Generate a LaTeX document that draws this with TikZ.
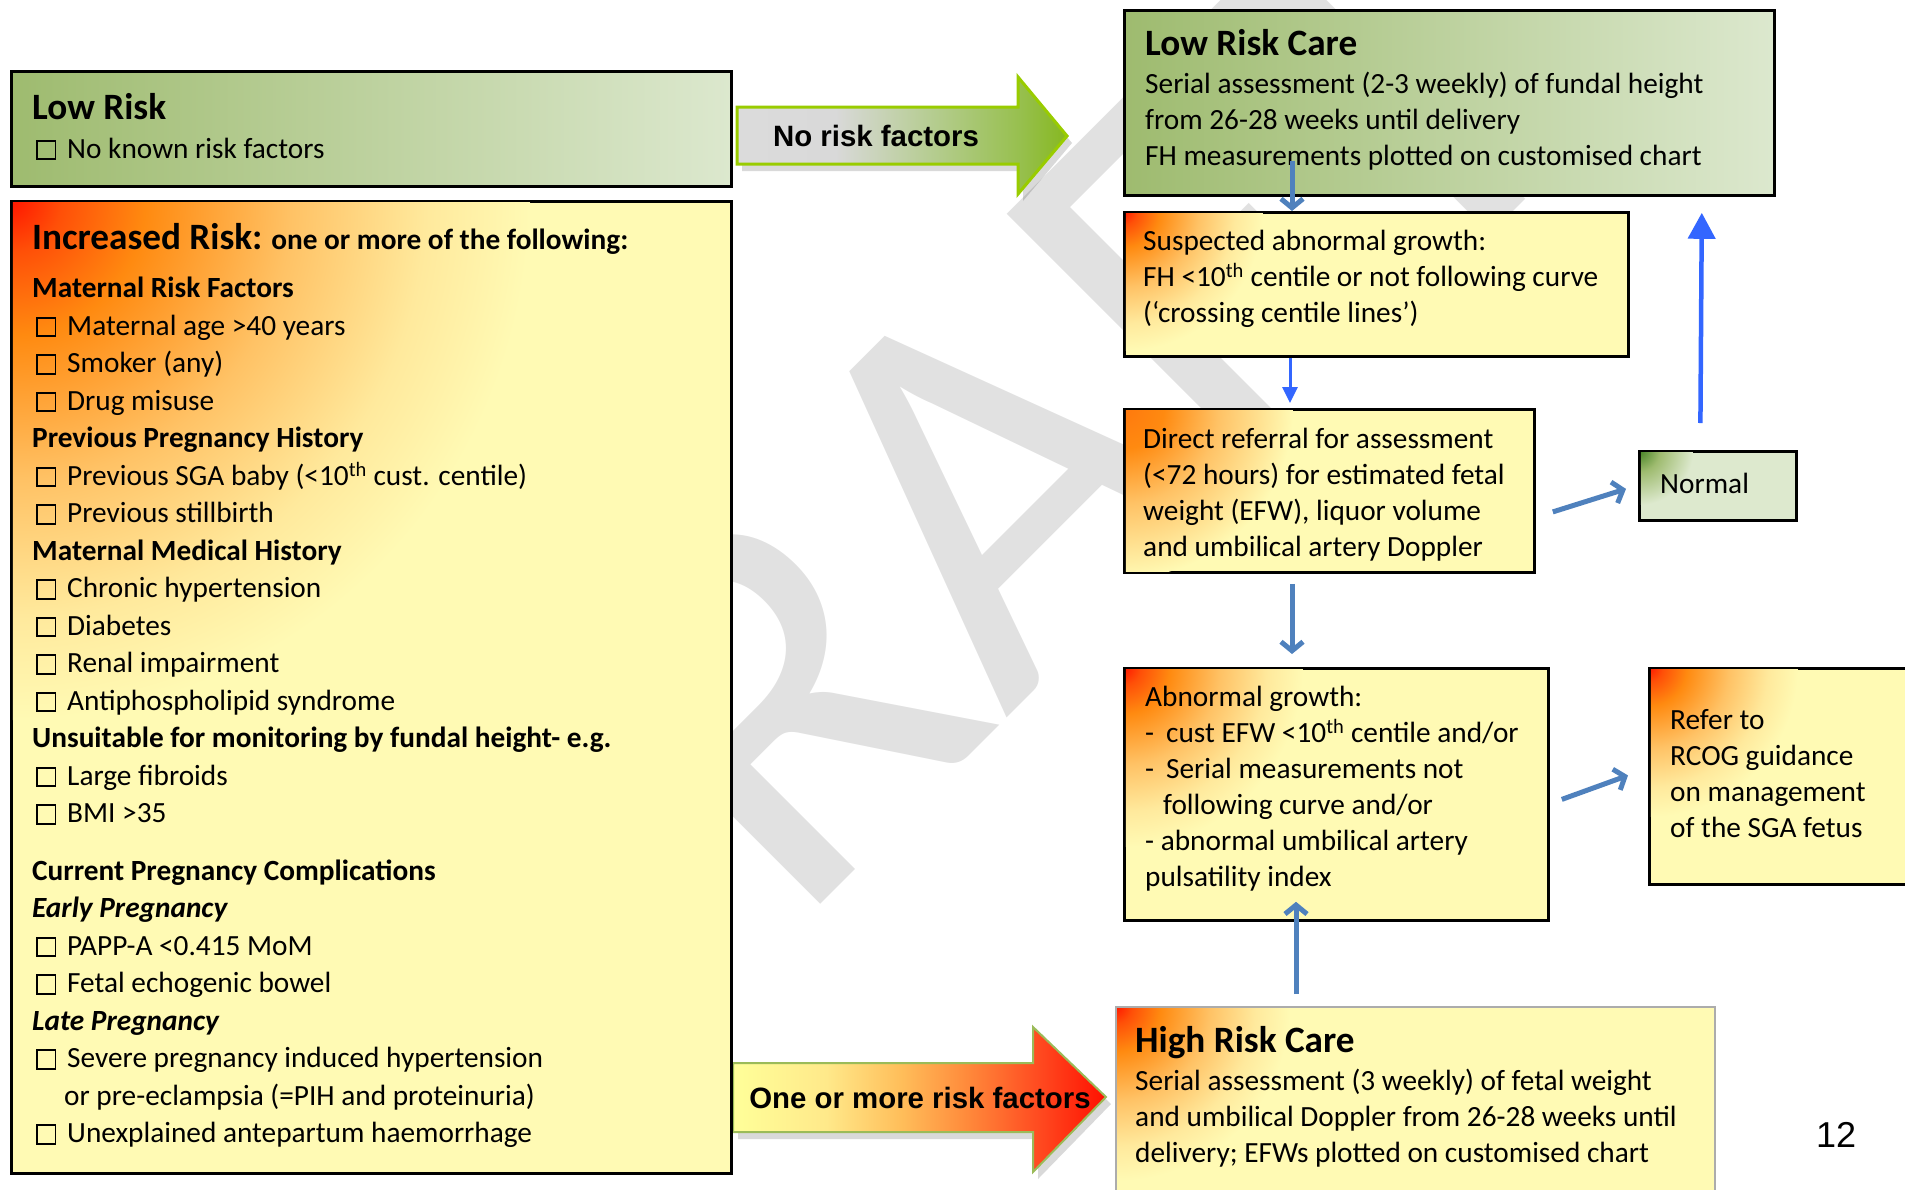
\documentclass[tikz,border=0pt]{standalone}
\usepackage{fontspec}
\setmainfont{Carlito}
\newfontfamily\arialfont{Liberation Sans}
\usetikzlibrary{arrows.meta}

\definecolor{lrgreenA}{HTML}{9EBB6F}
\definecolor{lrgreenB}{HTML}{DCE8CE}
\definecolor{paleyellow}{HTML}{FFFAB4}
\definecolor{hotred}{HTML}{FF1500}
\definecolor{hotorange}{HTML}{FF8A10}
\definecolor{lightorange}{HTML}{FFC265}
\definecolor{steelblue}{HTML}{4F81BD}
\definecolor{brightblue}{HTML}{3366FF}
\definecolor{limegreen}{HTML}{99CC00}
\definecolor{rimgreen}{HTML}{9BBB59}
\definecolor{wmgray}{HTML}{E1E1E1}
\definecolor{normalgreen}{HTML}{3F7F1F}
\definecolor{normalpale}{HTML}{DDE9CE}

% tikz fits the 25bp..75bp part of a shading to the path
\pgfdeclareradialshading{hotcorner}{\pgfpointorigin}{color(0bp)=(hotred); color(2.5bp)=(hotred!50!hotorange); color(6.5bp)=(hotorange); color(13.5bp)=(lightorange); color(20bp)=(paleyellow!70!lightorange); color(25bp)=(paleyellow); color(50bp)=(paleyellow)}
\pgfdeclareradialshading{warmcorner}{\pgfpointorigin}{color(0bp)=(hotorange!85!hotred); color(6bp)=(hotorange); color(14bp)=(lightorange); color(25bp)=(paleyellow); color(50bp)=(paleyellow)}
\pgfdeclareradialshading{greencorner}{\pgfpointorigin}{color(0bp)=(normalgreen); color(10bp)=(lrgreenA); color(25bp)=(normalpale); color(50bp)=(normalpale)}
\pgfdeclarehorizontalshading{greenarrow}{100bp}{color(0bp)=(black!14); color(25bp)=(black!14); color(40bp)=(black!15); color(55bp)=(rgb,255:red,180;green,204;blue,142); color(67.5bp)=(rgb,255:red,152;green,192;blue,80); color(75bp)=(rgb,255:red,134;green,184;blue,32); color(100bp)=(rgb,255:red,134;green,184;blue,32)}
\pgfdeclarehorizontalshading{hotarrow}{100bp}{color(0bp)=(rgb,255:red,255;green,255;blue,153); color(25bp)=(rgb,255:red,255;green,255;blue,153); color(37.5bp)=(rgb,255:red,255;green,233;blue,138); color(47.5bp)=(rgb,255:red,255;green,190;blue,90); color(56bp)=(rgb,255:red,255;green,140;blue,60); color(66bp)=(rgb,255:red,255;green,74;blue,32); color(75bp)=(rgb,255:red,255;green,16;blue,0); color(100bp)=(rgb,255:red,255;green,16;blue,0)}

\newcommand{\ckbox}{\makebox[35pt][l]{\hspace*{4pt}{\setlength{\fboxsep}{0pt}\setlength{\fboxrule}{1.8pt}\fbox{\rule{0pt}{16.5pt}\rule{16.5pt}{0pt}}}}}
\newcommand{\boxtitle}{\fontsize{37.2}{36}\selectfont\bfseries}
% corner glow: node, shading, radius, inset
\newcommand{\cornerglow}[4]{%
  \begin{scope}
    \clip ([shift={(#4,#4)}]#1.north west) rectangle ([shift={(-#4,-#4)}]#1.south east);
    \shade[shading=#2] (#1.north west) circle (#3);
  \end{scope}}

\def\noriskpath{(737,107) -- (1018,107) -- (1018,77) -- (1067,136) -- (1018,194) -- (1018,164) -- (737,164) -- cycle}
\def\onepluspath{(733,1063) -- (1033,1063) -- (1033,1027) -- (1106,1097) -- (1033,1172) -- (1033,1132) -- (733,1132) -- cycle}

\tikzset{
  box/.style={draw=black, line width=2.8pt, anchor=north west, inner sep=0pt},
  yellowbox/.style={box, fill=paleyellow},
  greenbox/.style={box, left color=lrgreenA, right color=lrgreenB},
  boxtext/.style={anchor=west, align=left, inner sep=0pt, font=\fontsize{29.3}{36}\selectfont},
  blocklabel/.style={inner sep=0pt, font=\arialfont\bfseries\fontsize{29.4}{30}\selectfont},
  steelarr/.style={draw=steelblue, line width=5pt, -{Straight Barb[length=9pt,width=22pt]}},
  bluearr/.style={draw=brightblue, line width=3pt, -{Triangle[length=16pt,width=15pt]}},
  bigbluearr/.style={draw=brightblue, line width=4.5pt, -{Triangle[length=26pt,width=27pt]}}
}

\begin{document}
\begin{tikzpicture}[x=1pt,y=-1pt]
  \useasboundingbox (0,0) rectangle (1905,1189);

  % watermark
  \node[rotate=45, anchor=base west, inner sep=0pt, text=wmgray,
        font=\fontsize{555}{600}\selectfont] (draft) at (551,1174) {DRAFT};

  % block arrows
  \fill[black, opacity=.15, shift={(5,7)}] \noriskpath;
  \shade[shading=greenarrow, draw=limegreen, line width=3pt] \noriskpath;
  \node[blocklabel] (norisk) at (876,136) {No risk factors};

  \fill[black, opacity=.15, shift={(5,7)}] \onepluspath;
  \shade[shading=hotarrow, draw=rimgreen, line width=2pt] \onepluspath;
  \node[blocklabel] (oneplus) at (920,1098) {One or more risk factors};

  % left column
  \node[greenbox, minimum width=720, minimum height=115] (lowrisk) at (10,70) {};
  \node[boxtext] (lowrisktext) at ([xshift=22,yshift=2]lowrisk.west)
    {{\boxtitle Low Risk}\\[2.5pt]
     \ckbox No known risk factors};

  \node[yellowbox, minimum width=720, minimum height=972] (incrisk) at (10,200) {};
  \cornerglow{incrisk}{hotcorner}{520}{2.8}
  \node[boxtext, font=\fontsize{29.3}{37.5}\selectfont] (incrisktext) at ([xshift=22,yshift=2]incrisk.west)
    {{\boxtitle Increased Risk:} \textbf{one or more of the following:}\\[11pt]
     \textbf{Maternal Risk Factors}\\
     \ckbox Maternal age >40 years\\
     \ckbox Smoker (any)\\
     \ckbox Drug misuse\\
     \textbf{Previous Pregnancy History}\\
     \ckbox Previous SGA baby (<10\textsuperscript{th} cust. centile)\\
     \ckbox Previous stillbirth\\
     \textbf{Maternal Medical History}\\
     \ckbox Chronic hypertension\\
     \ckbox Diabetes\\
     \ckbox Renal impairment\\
     \ckbox Antiphospholipid syndrome\\
     \textbf{Unsuitable for monitoring by fundal height- e.g.}\\
     \ckbox Large fibroids\\
     \ckbox BMI >35\\[20pt]
     \textbf{Current Pregnancy Complications}\\
     \textbf{\textit{Early Pregnancy}}\\
     \ckbox PAPP-A <0.415 MoM\\
     \ckbox Fetal echogenic bowel\\
     \textbf{\textit{Late Pregnancy}}\\
     \ckbox Severe pregnancy induced hypertension\\
     \hspace*{32pt}or pre-eclampsia (=PIH and proteinuria)\\
     \ckbox Unexplained antepartum haemorrhage};

  % right column
  \node[greenbox, minimum width=650, minimum height=185] (lrcare) at (1123,9) {};
  \node[boxtext] (lrcaretext) at ([xshift=22,yshift=3]lrcare.west)
    {{\boxtitle Low Risk Care}\\[2pt]
     Serial assessment (2-3 weekly) of fundal height\\
     from 26-28 weeks until delivery\\
     FH measurements plotted on customised chart};

  \node[yellowbox, minimum width=504, minimum height=144] (suspect) at (1123,211) {};
  \cornerglow{suspect}{hotcorner}{140}{2.8}
  \node[boxtext] (suspecttext) at ([xshift=20,yshift=6]suspect.west)
    {Suspected abnormal growth:\\
     FH <10\textsuperscript{th} centile or not following curve\\
     (‘crossing centile lines’)};

  \node[yellowbox, minimum width=410, minimum height=163] (referral) at (1123,408) {};
  \cornerglow{referral}{warmcorner}{170}{2.8}
  \node[boxtext] (referraltext) at ([xshift=20,yshift=-4]referral.west)
    {Direct referral for assessment\\
     (<72 hours) for estimated fetal\\
     weight (EFW), liquor volume\\
     and umbilical artery Doppler};

  \node[box, fill=normalpale, minimum width=157, minimum height=69] (normal) at (1638,450) {};
  \cornerglow{normal}{greencorner}{55}{2.8}
  \node[boxtext] (normaltext) at ([xshift=22,yshift=2]normal.west) {Normal};

  \node[yellowbox, minimum width=424, minimum height=252] (abnormal) at (1123,667) {};
  \cornerglow{abnormal}{hotcorner}{180}{2.8}
  \node[boxtext] (abnormaltext) at ([xshift=22,yshift=6]abnormal.west)
    {Abnormal growth:\\
     -\hspace*{12pt}cust EFW <10\textsuperscript{th} centile and/or\\
     -\hspace*{12pt}Serial measurements not\\
     \hspace*{18pt}following curve and/or\\
     - abnormal umbilical artery\\
     pulsatility index};

  \node[yellowbox, minimum width=282, minimum height=216] (rcog) at (1648,667) {};
  \cornerglow{rcog}{hotcorner}{150}{2.8}
  \node[boxtext] (rcogtext) at ([xshift=22,yshift=3]rcog.west)
    {Refer to\\
     RCOG guidance\\
     on management\\
     of the SGA fetus};

  \node[yellowbox, draw=gray!65, line width=2pt, minimum width=599, minimum height=189] (hrcare) at (1115,1006) {};
  \cornerglow{hrcare}{hotcorner}{175}{2}
  \node[boxtext, anchor=north west] (hrcaretext) at ([xshift=20,yshift=-20]hrcare.north west)
    {{\boxtitle High Risk Care}\\[2pt]
     Serial assessment (3 weekly) of fetal weight\\
     and umbilical Doppler from 26-28 weeks until\\
     delivery; EFWs plotted on customised chart};

  \node[font=\arialfont\fontsize{36}{36}\selectfont, inner sep=0pt] (pagenum) at (1836,1135) {12};

  % connectors
  \draw[steelarr] ([xshift=169,yshift=36]lrcare.south west) -- ([xshift=169]suspect.north west);
  \draw[bluearr] ([xshift=167]suspect.south west) -- ([xshift=167,yshift=5]referral.north west);
  \draw[steelarr] ([xshift=169,yshift=-10]referral.south west) -- ([xshift=169,yshift=13]abnormal.north west);
  \draw[steelarr] ([xshift=181,yshift=12]hrcare.north west) -- ([xshift=173,yshift=20]abnormal.south west);
  \draw[steelarr] ([xshift=17,yshift=-21]referral.east) -- ([xshift=-12,yshift=-3]normal.west);
  \draw[steelarr] ([xshift=12,yshift=-5]abnormal.east) -- ([xshift=-20,yshift=1]rcog.west);
  \draw[bigbluearr] ([xshift=-17.5,yshift=27]normal.north) -- ([xshift=-74,yshift=-16]lrcare.south east);
\end{tikzpicture}
\end{document}
